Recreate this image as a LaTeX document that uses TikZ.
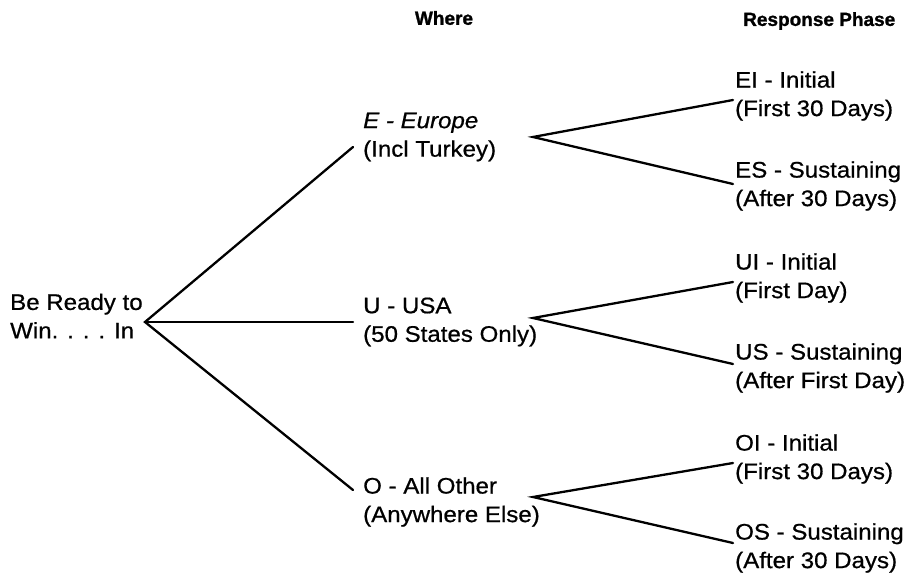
\documentclass[tikz,border=0pt]{standalone}
\usepackage{fontspec}
\setmainfont{Liberation Sans}
\newfontfamily\lblfont{Liberation Sans}[FakeBold=0.7,FakeStretch=1.07]
\newfontfamily\hdrfont{Liberation Sans}[FakeBold=1.2]
\begin{document}
\begin{tikzpicture}[x=1pt,y=-1pt,
  lbl/.style={anchor=west,align=left,inner sep=0pt,font=\lblfont\fontsize{22.5}{28.5}\selectfont},
  hdr/.style={inner sep=0pt,font=\hdrfont\fontsize{19}{24}\selectfont\bfseries},
  conn/.style={line width=2.3pt,line cap=round,line join=miter}]
\useasboundingbox (0,0) rectangle (914,579);
% headers
\node[hdr] (hwhere) at (444,18) {Where};
\node[hdr,anchor=west] (hresp) at (743,21) {Response Phase};
% root
\node[lbl] (root) at (10,316) {Be Ready to\\Win. . . . In};
\coordinate (rv) at (145,322);
% middle column
\node[lbl] (E) at (363,137) {\itshape E - Europe\\(Incl Turkey)};
\node[lbl] (U) at (363,322) {U - USA\\(50 States Only)};
\node[lbl] (O) at (363,502) {O - All Other\\(Anywhere Else)};
\coordinate (Ein) at (353,147);
\coordinate (Uin) at (353,322);
\coordinate (Oin) at (353,490);
\coordinate (Ev) at (533,137);
\coordinate (Uv) at (533,318);
\coordinate (Ov) at (533,497);
% right column
\node[lbl] (EI) at (735,96) {EI - Initial\\(First 30 Days)};
\node[lbl] (ES) at (735,186) {ES - Sustaining\\(After 30 Days)};
\node[lbl] (UI) at (735,278) {UI - Initial\\(First Day)};
\node[lbl] (US) at (735,368) {US - Sustaining\\(After First Day)};
\node[lbl] (OI) at (735,459) {OI - Initial\\(First 30 Days)};
\node[lbl] (OS) at (735,548) {OS - Sustaining\\(After 30 Days)};
\coordinate (EIe) at (733,100);
\coordinate (ESe) at (733,184);
\coordinate (UIe) at (733,282);
\coordinate (USe) at (733,364);
\coordinate (OIe) at (733,463);
\coordinate (OSe) at (733,543);
% connectors
\draw[conn] (Ein) -- (rv) -- (Oin);
\draw[conn] (rv) -- (Uin);
\draw[conn] (EIe) -- (Ev) -- (ESe);
\draw[conn] (UIe) -- (Uv) -- (USe);
\draw[conn] (OIe) -- (Ov) -- (OSe);
\end{tikzpicture}
\end{document}
